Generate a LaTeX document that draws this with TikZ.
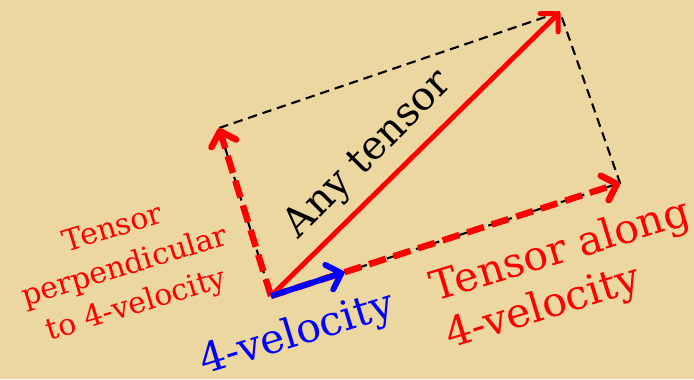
\documentclass[tikz,border=0pt]{standalone}
\usepackage{fontspec}
\setmainfont{DejaVu Serif}
\usepackage{xcolor}
\usepackage{tikz}
\usetikzlibrary{arrows.meta,calc}
\definecolor{parchment}{RGB}{237,215,160}

\begin{document}
\begin{tikzpicture}[x=0.03cm,y=-0.03cm,
  tip/.style={-{Straight Barb[length=11pt,width=22pt,round]}},
  vec/.style={tip,red,line width=4.2pt},
  part/.style={tip,red,line width=5.5pt,dash pattern=on 15pt off 7pt},
  box/.style={black,line width=1.8pt,dash pattern=on 8pt off 5pt},
  lbl/.style={align=center,inner sep=0pt}]
  \fill[parchment] (0,0) rectangle (694,379);
  \useasboundingbox (0,0) rectangle (694,379);
  \coordinate (O) at (271,296);
  \coordinate (A) at (560,12);
  \coordinate (B) at (620,183);
  \coordinate (P) at (219,128);
  \coordinate (V) at ($(O)!0.21!(B)$);
  % parallelogram
  \draw[box] (O) -- (B) -- (A) -- (P) -- cycle;
  % components and the tensor itself
  \draw[part] (O) -- (B);
  \draw[part] (O) -- (P);
  \draw[vec] (O) -- (A);
  \draw[tip,blue,line width=5pt] (O) -- (V);
  % labels
  \node[lbl,rotate=45,font=\fontsize{34}{40}\selectfont] (any) at (369,155) {Any tensor};
  \node[lbl,align=left,anchor=base west,rotate=17,red,font=\fontsize{35}{42}\selectfont] (along) at (450,349) {Tensor along\\4-velocity};
  \node[lbl,rotate=17,red,font=\fontsize{25.5}{34}\selectfont] (perp) at (125,268) {Tensor\\perpendicular\\to 4-velocity};
  \node[lbl,rotate=17,blue,font=\fontsize{35}{42}\selectfont] (vel) at (297,335) {4-velocity};
\end{tikzpicture}
\end{document}
